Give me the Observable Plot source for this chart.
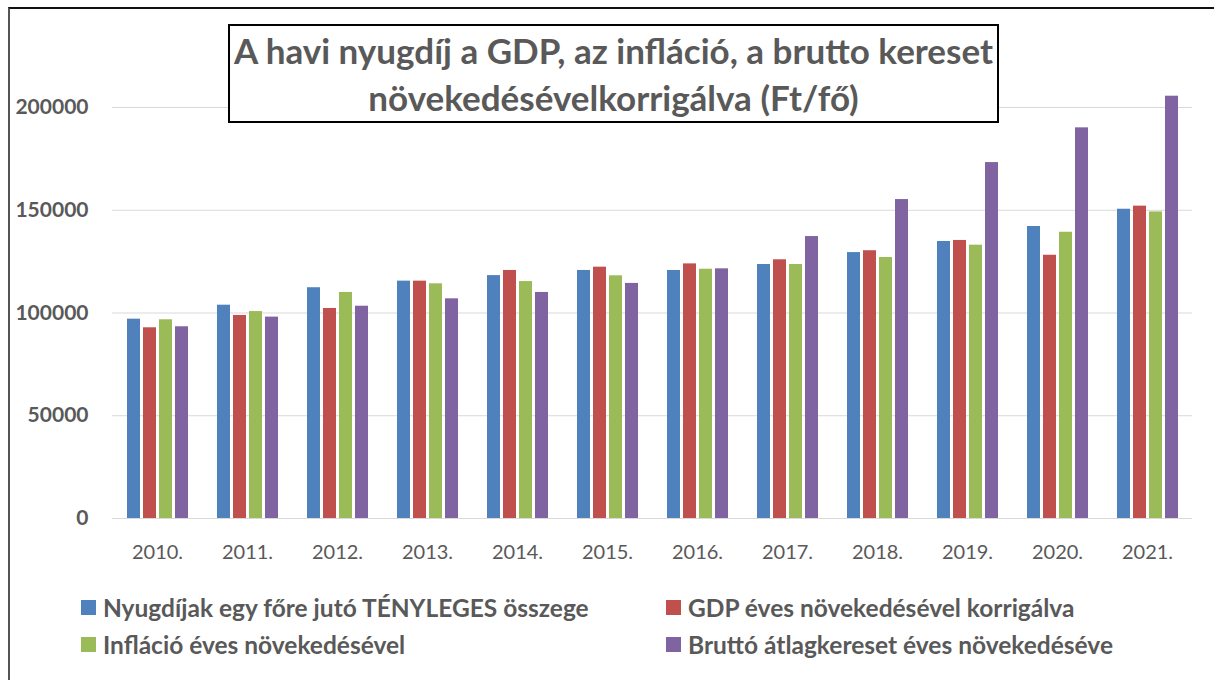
<!DOCTYPE html>
<html>
<head>
<meta charset="utf-8">
<script src="https://cdn.jsdelivr.net/npm/d3@7"></script>
<script src="https://cdn.jsdelivr.net/npm/@observablehq/plot@0.6"></script>
<style>
  html, body { margin: 0; padding: 0; background: #fff; }
  body { width: 1214px; height: 680px; position: relative; overflow: hidden; font-family: Lato, "Open Sans", sans-serif; }
  #frame { position: absolute; left: 8px; top: 7px; width: 1240px; height: 700px; border-left: 2.5px solid #555; border-top: 2px solid #111; box-sizing: border-box; }
  #grid, #chart { position: absolute; left: 0; top: 0; }
  #title { position: absolute; left: 228px; top: 24px; width: 771px; height: 99px; box-sizing: border-box; border: 2px solid #000; background: #fff; color: #595959; font-weight: bold; font-size: 35px; text-align: center; line-height: 47px; padding-top: 1px; }
  #legend { position: absolute; left: 0; top: 0; color: #595959; font-weight: bold; font-size: 24.5px; }
  .item { position: absolute; white-space: nowrap; display: flex; align-items: center; height: 30px; }
  .sw { width: 15px; height: 15px; margin-right: 7px; flex: none; }
</style>
</head>
<body>
<div id="frame"></div>
<div id="grid"></div>
<div id="chart"></div>
<div id="title">A havi nyugdíj a GDP, az infláció, a brutto kereset<br>növekedésévelkorrigálva (Ft/fő)</div>
<div id="legend"></div>
<script>
const years = ["2010.", "2011.", "2012.", "2013.", "2014.", "2015.", "2016.", "2017.", "2018.", "2019.", "2020.", "2021."];
const series = [
  "Nyugdíjak egy főre jutó TÉNYLEGES összege",
  "GDP éves növekedésével korrigálva",
  "Infláció éves növekedésével",
  "Bruttó átlagkereset éves növekedéséve"
];
const colors = ["#4F81BD", "#C0504D", "#9BBB59", "#8064A2"];
const actual    = [97000, 103800, 112300, 115500, 118200, 120700, 120700, 123600, 129400, 134800, 142100, 150500];
const gdp       = [92800,  98800, 102200, 115500, 120700, 122300, 123900, 125900, 130300, 135300, 128100, 152000];
const inflation = [96700, 100700, 110000, 114200, 115300, 118100, 121300, 123600, 127000, 133000, 139300, 149200];
const wage      = [93300,  98000, 103300, 106900, 110000, 114400, 121500, 137200, 155200, 173200, 190100, 205500];
const yTicks = [0, 50000, 100000, 150000, 200000];

const valuesBySeries = [actual, gdp, inflation, wage];
const data = [];
years.forEach((yr, i) => {
  series.forEach((s, j) => data.push({year: yr, series: s, value: valuesBySeries[j][i]}));
});

const common = {
  width: 1214,
  height: 580,
  marginLeft: 112,
  marginRight: 22,
  marginTop: 86.45,
  marginBottom: 62,
  style: {fontFamily: "Lato, 'Open Sans', sans-serif", color: "#595959", background: "transparent"}
};

// Layer 1: gridlines and y axis across the whole plot width
const grid = Plot.plot({
  ...common,
  x: {axis: null},
  y: {domain: [0, 210000], axis: null},
  marks: [
    Plot.ruleY(yTicks, {stroke: "#d9d9d9", strokeWidth: 1.2}),
    Plot.axisY({ticks: yTicks, tickSize: 0, tickPadding: 24, tickFormat: d => String(d), fontSize: 21, fontWeight: "bold", label: null})
  ]
});
document.getElementById("grid").appendChild(grid);

// Layer 2: grouped bars, faceted by year
const chart = Plot.plot({
  ...common,
  fx: {domain: years, paddingInner: 0.31, paddingOuter: 0.155, label: null, axis: null},
  x: {domain: series, paddingInner: 0.2, paddingOuter: 0, axis: null},
  y: {domain: [0, 210000], axis: null},
  color: {domain: series, range: colors},
  marks: [
    Plot.barY(data, {fx: "year", x: "series", y: "value", fill: "series"}),
    Plot.axisFx({anchor: "bottom", tickSize: 0, tickPadding: 26, fontSize: 20, label: null})
  ]
});
document.getElementById("chart").appendChild(chart);

const legend = document.getElementById("legend");
const pos = [[81, 592], [666, 592], [81, 629], [666, 629]];
series.forEach((s, j) => {
  const d = document.createElement("div");
  d.className = "item";
  d.style.left = pos[j][0] + "px";
  d.style.top = pos[j][1] + "px";
  d.innerHTML = `<span class="sw" style="background:${colors[j]}"></span><span>${s}</span>`;
  legend.appendChild(d);
});
</script>
</body>
</html>
